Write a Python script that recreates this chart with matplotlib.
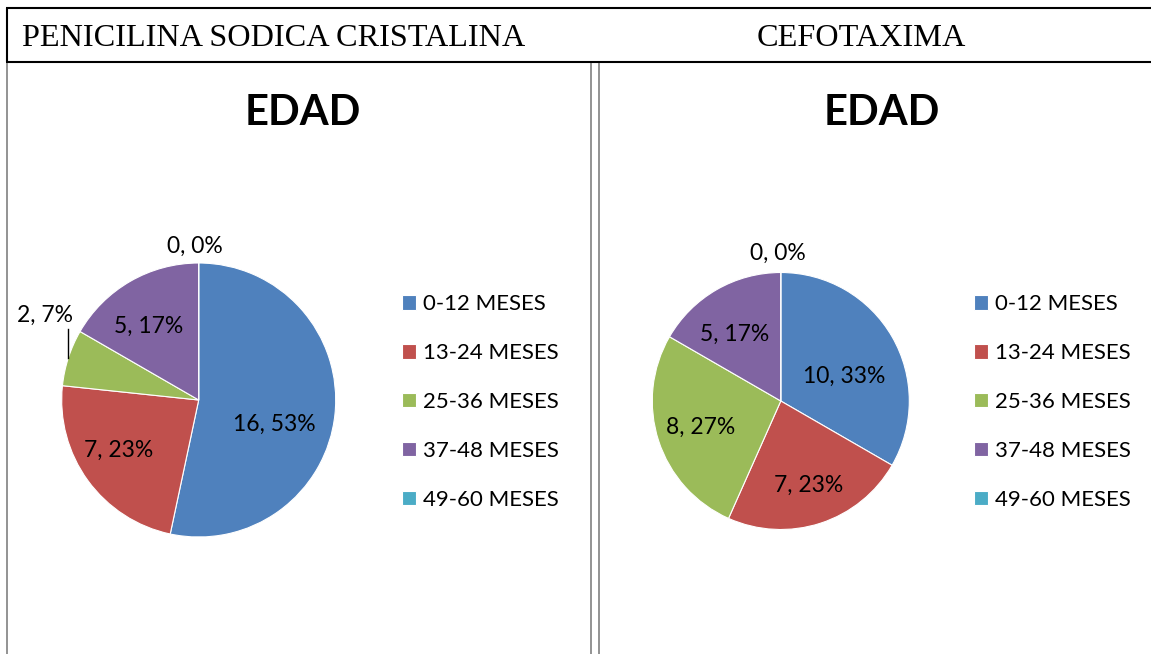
import numpy as np
import matplotlib
matplotlib.use("Agg")
import matplotlib.pyplot as plt
from matplotlib.lines import Line2D

# datos
categorias = ["0-12 MESES", "13-24 MESES", "25-36 MESES", "37-48 MESES", "49-60 MESES"]
penicilina = [16, 7, 2, 5, 0]
cefotaxima = [10, 7, 8, 5, 0]
encabezados = ["PENICILINA SODICA CRISTALINA", "CEFOTAXIMA"]
titulo = "EDAD"

colores = ["#4F81BD", "#C0504D", "#9BBB59", "#8064A2", "#4BACC6"]

W, H = 1151, 654
fig = plt.figure(figsize=(W / 100, H / 100), dpi=100)
fig.patch.set_facecolor("white")


def fx(x):
    return x / W


def fy(y):
    return 1 - y / H


def linea(x0, y0, x1, y1, color="black", lw=1.5):
    fig.add_artist(Line2D([fx(x0), fx(x1)], [fy(y0), fy(y1)], transform=fig.transFigure,
                          color=color, lw=lw, solid_capstyle="butt"))


# tabla
linea(6, 7.5, W, 7.5)
linea(6, 61.7, W, 61.7)
linea(7, 7.5, 7, 61.7)
for xg in [6.7, 591, 599]:
    linea(xg, 62.5, xg, H, color="#808080", lw=1.2)

fig.text(fx(22), fy(38), encabezados[0], family="Liberation Serif", fontsize=23.2,
         ha="left", va="center")
fig.text(fx(861.5), fy(38), encabezados[1], family="Liberation Serif", fontsize=23.2,
         ha="center", va="center")


def pastel(valores, cx, cy, R, tx, leg_x, dist, giro, guia=None):
    ax = fig.add_axes([fx(cx - R), fy(cy + R), 2 * R / W, 2 * R / H])
    wedges, _ = ax.pie(valores, colors=colores, startangle=90, counterclock=False,
                       radius=1, wedgeprops=dict(edgecolor="white", linewidth=0.8))
    ax.set_xlim(-1, 1)
    ax.set_ylim(-1, 1)
    ax.axis("off")
    total = sum(valores)
    for i, w in enumerate(wedges):
        mid = (w.theta1 + w.theta2) / 2
        ang = np.deg2rad(mid + giro[i])
        x, y = dist[i] * np.cos(ang), dist[i] * np.sin(ang)
        pct = round(valores[i] / total * 100)
        ax.text(x, y, f"{valores[i]}, {pct}%", family="Lato", fontsize=16.5,
                ha="center", va="center", color="black")
        if guia == i:
            m = np.deg2rad(mid)
            ax.plot([np.cos(m), np.cos(m)], [np.sin(m), y - 0.1], color="black",
                    lw=1, clip_on=False)
    fig.text(fx(tx), fy(113), titulo, family="Lato", fontweight="bold", fontsize=30,
             ha="center", va="center")
    ax.legend(wedges, categorias, loc="center left", bbox_to_anchor=(fx(leg_x), fy(402)),
              bbox_transform=fig.transFigure, frameon=False,
              prop=dict(family="Lato", size=16), handlelength=0.63, handleheight=0.63,
              handletextpad=0.3, labelspacing=1.3, borderpad=0, borderaxespad=0)


pastel(penicilina, 198.7, 400, 137, 303, 402,
       dist=[0.577, 0.69, 1.28, 0.65, 1.124], giro=[-12, -4, -11, 4, 1.4], guia=2)
pastel(cefotaxima, 780.8, 401, 128.5, 882, 974,
       dist=[0.525, 0.69, 0.654, 0.63, 1.15], giro=[-9, 0, 0, 4.5, 1])

fig.savefig("out.png", dpi=100)
